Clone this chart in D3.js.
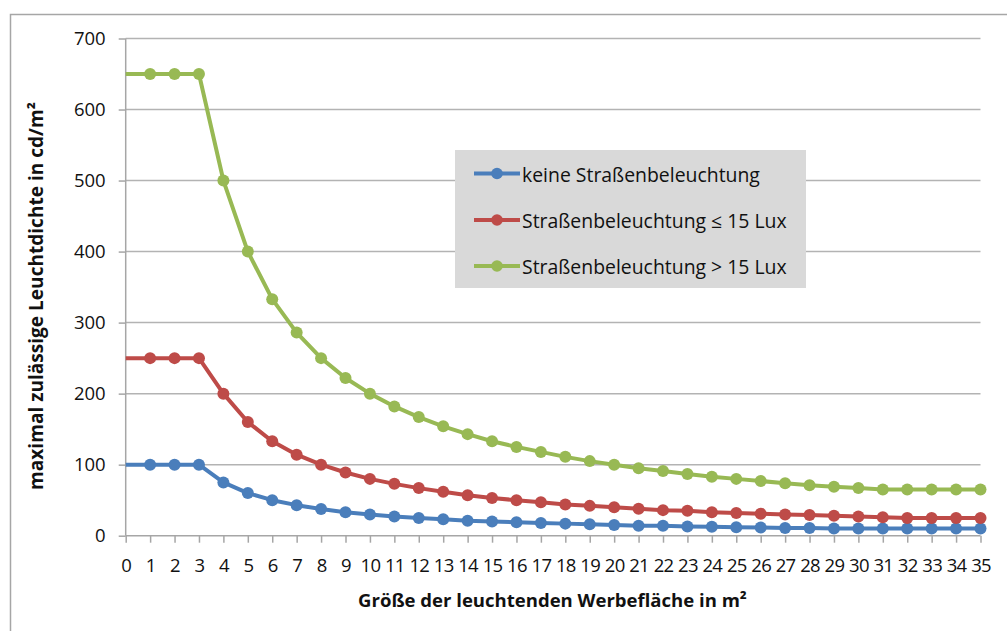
<!DOCTYPE html>
<html><head><meta charset="utf-8">
<script src="https://cdn.jsdelivr.net/npm/d3@7"></script>
<style>body{margin:0;background:#fff}svg{display:block}text{font-family:"Open Sans","Noto Sans",sans-serif}</style>
</head><body><svg id="c" width="1007" height="631"></svg>
<script>
const xValues = d3.range(0, 36);
const seriesNames = ["keine Straßenbeleuchtung", "Straßenbeleuchtung ≤ 15 Lux", "Straßenbeleuchtung > 15 Lux"];
const keineValues = [100,100,100,100,75,60,50,43,37.5,33,30,27,25,23,21,20,19,18,17,16,15,14,14,13,12.5,12,11.5,11,11,10,10,10,10,10,10,10];
const unter15Values = [250,250,250,250,200,160,133,114,100,89,80,73,67,62,57,53,50,47,44,42,40,38,36,35,33,32,31,30,29,28,27,26,25,25,25,25];
const ueber15Values = [650,650,650,650,500,400,333,286,250,222,200,182,167,154,143,133,125,118,111,105,100,95,91,87,83,80,77,74,71,69,67,65,65,65,65,65];
const yTicks = [0,100,200,300,400,500,600,700];
const colors = ["#4a7ebb","#be4b48","#98b954"];
const seriesValues = [keineValues, unter15Values, ueber15Values];

const svg = d3.select("#c");
function fitWidth(sel, target){
  const w = sel.node().getComputedTextLength();
  const fs = parseFloat(sel.attr("font-size"));
  if (w > 0) sel.attr("font-size", fs * target / w);
}
// outer chart border
svg.append("path").attr("d","M10.5,640 V14.5 H1020").attr("fill","none").attr("stroke","#a6a6a6").attr("stroke-width",1.5);

const x = d3.scaleLinear().domain([0,35]).range([125.7,980.5]);
const y = d3.scaleLinear().domain([0,700]).range([535.7,38.5]);

// gridlines
svg.append("g").selectAll("line").data(yTicks.filter(d=>d>0)).join("line")
  .attr("x1",x(0)).attr("x2",x(35)).attr("y1",d=>y(d)).attr("y2",d=>y(d))
  .attr("stroke","#b3b3b3").attr("stroke-width",1.5);

const yAxis = svg.append("g").attr("transform",`translate(${x(0)},0)`)
  .call(d3.axisLeft(y).tickValues(yTicks).tickSize(7).tickPadding(13));
const xAxis = svg.append("g").attr("transform",`translate(0,${y(0)})`)
  .call(d3.axisBottom(x).tickValues(xValues).tickFormat(d3.format("d")).tickSize(7).tickPadding(16));
[yAxis,xAxis].forEach(a=>{
  a.select(".domain").attr("stroke","#a6a6a6").attr("stroke-width",1.5);
  a.selectAll(".tick line").attr("stroke","#a6a6a6").attr("stroke-width",1.5);
  a.selectAll("text").attr("font-family","'Open Sans', 'Noto Sans', sans-serif").attr("font-size",18.5).attr("fill","#111");
});
xAxis.selectAll(".tick text").attr("letter-spacing",-0.7);
yAxis.select(".domain").attr("d",`M0,${y(700)}V${y(0)}`);
xAxis.select(".domain").attr("d",`M${x(0)},0H${x(35)}`);

const line = d3.line().x((d,i)=>x(xValues[i])).y(d=>y(d));
seriesValues.forEach((vals,k)=>{
  const g = svg.append("g");
  g.append("path").datum(vals).attr("d",line).attr("fill","none")
    .attr("stroke",colors[k]).attr("stroke-width",4).attr("stroke-linejoin","round");
  g.selectAll("circle").data(vals.map((v,i)=>[xValues[i],v]).filter(d=>d[0]>=1)).join("circle")
    .attr("cx",d=>x(d[0])).attr("cy",d=>y(d[1])).attr("r",6).attr("fill",colors[k]);
});

// legend
const lg = svg.append("g");
lg.append("rect").attr("x",455).attr("y",150).attr("width",351).attr("height",138).attr("fill","#d9d9d9");
const rowY = [173.5,220,266];
let legendFs = null;
seriesNames.forEach((n,k)=>{
  lg.append("line").attr("x1",474).attr("x2",520).attr("y1",rowY[k]).attr("y2",rowY[k])
    .attr("stroke",colors[k]).attr("stroke-width",3.8);
  lg.append("circle").attr("cx",497).attr("cy",rowY[k]).attr("r",5.8).attr("fill",colors[k]);
  const t = lg.append("text").attr("class","lt").attr("x",522).attr("y",rowY[k]+8).attr("font-size",18).attr("fill","#111").text(n);
  if (k===0){ fitWidth(t, 238); legendFs = t.attr("font-size"); }
  else t.attr("font-size", legendFs);
});

// axis titles
const xt = svg.append("text").attr("x",552.5).attr("y",607).attr("text-anchor","middle")
  .attr("font-size",18).attr("font-weight","bold").attr("fill","#111")
  .text("Größe der leuchtenden Werbefläche in m²");
fitWidth(xt, 389);
const yt = svg.append("text").attr("transform","translate(43,296) rotate(-90)").attr("text-anchor","middle")
  .attr("font-size",18).attr("font-weight","bold").attr("fill","#111")
  .text("maximal zulässige Leuchtdichte in cd/m²");
fitWidth(yt, 388);
</script></body></html>
